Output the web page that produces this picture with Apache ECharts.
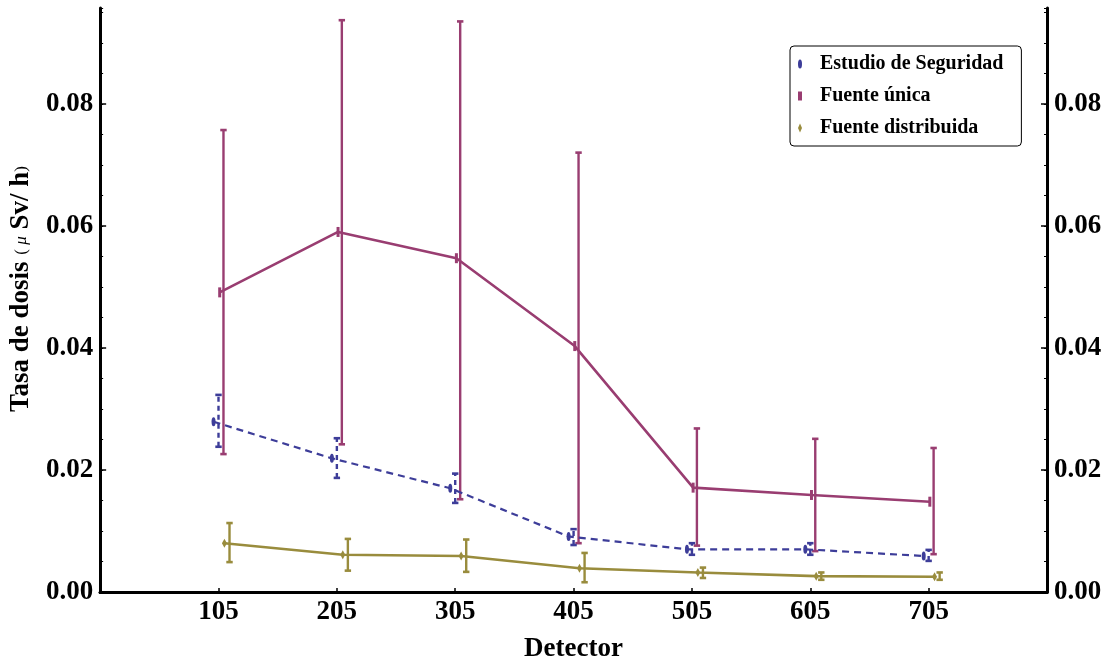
<!DOCTYPE html>
<html><head><meta charset="utf-8">
<script src="https://cdn.jsdelivr.net/npm/echarts@6/dist/echarts.min.js"></script>
<style>html,body{margin:0;padding:0;background:#fff}#c{width:1111px;height:668px}</style>
</head><body><div id="c"></div>
<script>
// ---- data ----
const detectors = [105, 205, 305, 405, 505, 605, 705];
const yTickValues = [0, 0.02, 0.04, 0.06, 0.08];
const seriesNames = ['Estudio de Seguridad', 'Fuente única', 'Fuente distribuida'];

const estudioVal  = [0.0279, 0.0219, 0.0170, 0.0091, 0.0070, 0.0070, 0.0059];
const estudioLow  = [0.0238, 0.0187, 0.0146, 0.0077, 0.0061, 0.0061, 0.0051];
const estudioHigh = [0.0323, 0.0252, 0.0194, 0.0103, 0.0080, 0.0080, 0.0069];

const unicaVal  = [0.0491, 0.0590, 0.0547, 0.0403, 0.0171, 0.0159, 0.0148];
const unicaLow  = [0.0226, 0.0242, 0.0152, 0.0080, 0.0076, 0.0067, 0.0062];
const unicaHigh = [0.0757, 0.0937, 0.0935, 0.0720, 0.0268, 0.0251, 0.0236];

const distVal  = [0.0080, 0.0061, 0.0059, 0.0039, 0.0032, 0.0026, 0.0025];
const distLow  = [0.0049, 0.0035, 0.0033, 0.0016, 0.0023, 0.0020, 0.0020];
const distHigh = [0.0113, 0.0087, 0.0086, 0.0064, 0.0040, 0.0032, 0.0032];

// ---- styling ----
const colors = ['#3d3d99', '#993d71', '#998c3d'];
const FONT = '"Liberation Serif", "Times New Roman", serif';
const X_MIN = 5, X_MAX = 805, Y_MAX = 0.0957;
// horizontal offsets (in x units) of marker / error bar for each series (Mathematica-style jitter)
const markerOff = [-4.2, 1, 5];
const barOff = [0, 4.2, 9.3];
const ELLIPSE = 'path://M2,0 A2,4.5 0 1,1 2,9 A2,4.5 0 1,1 2,0 Z';

function lineData(vals, i) { return detectors.map((d, k) => [d + markerOff[i], vals[k]]); }
function errData(lo, hi, i) { return detectors.map((d, k) => [d + barOff[i], lo[k], hi[k]]); }

function errRender(color, dashed) {
  return function (params, api) {
    const x = api.value(0), lo = api.value(1), hi = api.value(2);
    const a = api.coord([x, lo]), b = api.coord([x, hi]);
    const w = 3.2;
    const s = { stroke: color, lineWidth: 2.4, lineDash: dashed ? [5, 4] : null };
    const cs = { stroke: color, lineWidth: 2.6 };
    return {
      type: 'group', children: [
        { type: 'line', shape: { x1: a[0], y1: a[1], x2: b[0], y2: b[1] }, style: s },
        { type: 'line', shape: { x1: a[0] - w, y1: a[1], x2: a[0] + w, y2: a[1] }, style: cs },
        { type: 'line', shape: { x1: b[0] - w, y1: b[1], x2: b[0] + w, y2: b[1] }, style: cs }
      ]
    };
  };
}

const labelStyle = { fontFamily: FONT, fontWeight: 'bold', fontSize: 27, color: '#000' };
const axisLineStyle = { show: true, lineStyle: { color: '#000', width: 3 } };

function yMain(pos) {
  return {
    type: 'value', position: pos, min: 0, max: Y_MAX,
    axisLine: axisLineStyle,
    axisTick: { show: true, inside: true, length: 6, customValues: yTickValues, lineStyle: { color: '#000', width: 1.5 } },
    axisLabel: { show: true, customValues: yTickValues, margin: 7, formatter: v => v.toFixed(2), ...labelStyle },
    splitLine: { show: false }
  };
}
function yMinor(pos) {
  return {
    type: 'value', position: pos, min: 0, max: Y_MAX, interval: 0.005,
    axisLine: { show: false },
    axisTick: { show: true, inside: true, length: 3, lineStyle: { color: '#000', width: 1 } },
    axisLabel: { show: false }, splitLine: { show: false }
  };
}

const left = yMain('left');
left.name = '{a|Tasa de dosis }{b|( }{c|μ}{a| Sv/ h}{b|)}';
left.nameLocation = 'middle';
left.nameGap = 62;
left.nameRotate = 90;
left.nameTextStyle = {
  padding: [0, 0, 0, 22],
  rich: {
    a: { fontFamily: FONT, fontWeight: 'bold', fontSize: 27, color: '#000' },
    b: { fontFamily: FONT, fontSize: 17, color: '#000' },
    c: { fontFamily: FONT, fontStyle: 'italic', fontSize: 17, color: '#000' }
  }
};

const option = {
  animation: false,
  backgroundColor: '#fff',
  grid: { left: 99, right: 64, top: 8, bottom: 76, containLabel: false },
  legend: {
    orient: 'vertical', left: 790, top: 46,
    data: [
      { name: seriesNames[0], icon: ELLIPSE },
      { name: seriesNames[1], icon: 'rect' },
      { name: seriesNames[2], icon: 'diamond' }
    ],
    itemWidth: 4, itemHeight: 9, itemGap: 12,
    padding: [8, 18, 8, 8],
    borderColor: '#000', borderWidth: 1, borderRadius: 4,
    backgroundColor: '#fff',
    textStyle: { fontFamily: FONT, fontWeight: 'bold', fontSize: 20, color: '#000', padding: [0, 0, 0, 13] },
    selectedMode: false
  },
  xAxis: [
    {
      type: 'value', position: 'bottom', min: X_MIN, max: X_MAX,
      name: 'Detector', nameLocation: 'middle', nameGap: 44,
      nameTextStyle: { fontFamily: FONT, fontWeight: 'bold', fontSize: 27, color: '#000' },
      axisLine: axisLineStyle,
      axisTick: { show: true, inside: true, length: 4, customValues: detectors, lineStyle: { color: '#000', width: 1.5 } },
      axisLabel: { show: true, customValues: detectors, margin: 7, ...labelStyle },
      splitLine: { show: false }
    },
    {
      type: 'value', position: 'top', min: X_MIN, max: X_MAX,
      axisLine: axisLineStyle, axisTick: { show: false }, axisLabel: { show: false }, splitLine: { show: false }
    }
  ],
  yAxis: [left, yMain('right'), yMinor('left'), yMinor('right')],
  series: [
    {
      name: seriesNames[0], type: 'line', data: lineData(estudioVal, 0),
      symbol: ELLIPSE, symbolSize: [4, 9], showSymbol: true,
      lineStyle: { color: colors[0], width: 2.2, type: [7, 5] },
      itemStyle: { color: colors[0] }, z: 3
    },
    {
      name: seriesNames[0], type: 'custom', renderItem: errRender(colors[0], true),
      data: errData(estudioLow, estudioHigh, 0), encode: { x: 0, y: [1, 2] }, z: 3
    },
    {
      name: seriesNames[1], type: 'line', data: lineData(unicaVal, 1),
      symbol: 'rect', symbolSize: [3, 10], showSymbol: true,
      lineStyle: { color: colors[1], width: 2.6 },
      itemStyle: { color: colors[1] }, z: 2
    },
    {
      name: seriesNames[1], type: 'custom', renderItem: errRender(colors[1], false),
      data: errData(unicaLow, unicaHigh, 1), encode: { x: 0, y: [1, 2] }, z: 2
    },
    {
      name: seriesNames[2], type: 'line', data: lineData(distVal, 2),
      symbol: 'diamond', symbolSize: [5, 9], showSymbol: true,
      lineStyle: { color: colors[2], width: 2.6 },
      itemStyle: { color: colors[2] }, z: 2
    },
    {
      name: seriesNames[2], type: 'custom', renderItem: errRender(colors[2], false),
      data: errData(distLow, distHigh, 2), encode: { x: 0, y: [1, 2] }, z: 2
    }
  ]
};

const chart = echarts.init(document.getElementById('c'), null, { renderer: 'canvas' });
chart.setOption(option);
</script>
</body></html>
